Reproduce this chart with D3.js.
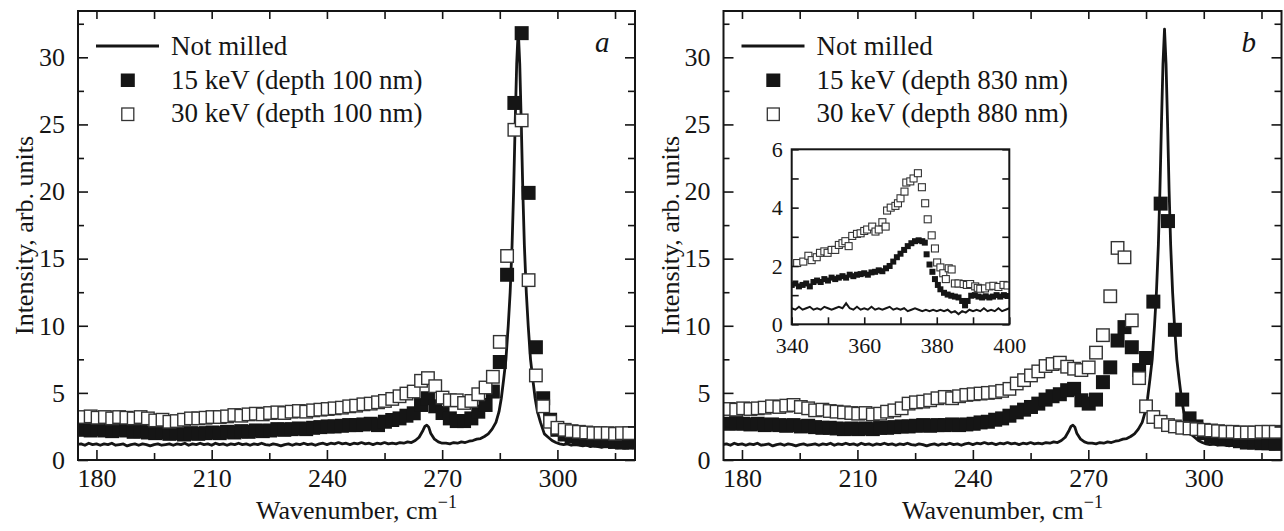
<!DOCTYPE html>
<html><head><meta charset="utf-8">
<script src="https://cdn.jsdelivr.net/npm/d3@7"></script>
<style>body{margin:0;background:#fff;}</style>
</head><body><svg id="c" width="1284" height="531"></svg>
<script>
// ---------- DATA ----------
const xMajor = [180, 210, 240, 270, 300];
const xMinor = [195, 225, 255, 285, 315];
const yMajor = [0, 5, 10, 15, 20, 25, 30];
const yMinor = [2.5, 7.5, 12.5, 17.5, 22.5, 27.5, 32.5];
const insetXMajor = [340, 360, 380, 400];
const insetXMinor = [350, 370, 390];
const insetYMajor = [0, 2, 4, 6];
const insetYMinor = [1, 3, 5];

const legendA = ["Not milled", "15 keV (depth 100 nm)", "30 keV (depth 100 nm)"];
const legendB = ["Not milled", "15 keV (depth 830 nm)", "30 keV (depth 880 nm)"];

// wavenumbers of the square-marker spectra
const gridWn = [176.6,178.5,180.3,182.2,184.1,185.9,187.8,189.7,191.5,193.4,
  195.3,197.2,199.0,200.9,202.8,204.6,206.5,208.4,210.2,212.1,
  214.0,215.9,217.7,219.6,221.5,223.3,225.2,227.1,228.9,230.8,
  232.7,234.6,236.4,238.3,240.2,242.0,243.9,245.8,247.6,249.5,
  251.4,253.3,255.1,257.0,258.9,260.7,262.6,264.5,266.3,268.2,
  270.1,272.0,273.8,275.7,277.6,279.4,281.3,283.2,285.0,286.9,
  288.8,290.7,292.5,294.4,296.3,298.1,300.0,301.9,303.7,305.6,
  307.5,309.4,311.2,313.1,315.0,316.8,318.7];

// panel a
const aFilled = [2.25,2.2,2.3,2.2,2.15,2.25,2.2,2.1,2.15,2.05,
  2.0,2.05,1.95,2.0,1.9,2.0,1.95,2.0,2.05,2.0,
  2.1,2.05,2.15,2.1,2.2,2.15,2.2,2.3,2.25,2.3,
  2.35,2.3,2.4,2.45,2.5,2.5,2.55,2.6,2.6,2.65,
  2.7,2.6,2.85,2.98,3.1,3.3,3.48,4.1,4.6,4.0,
  3.5,3.1,2.9,2.9,3.1,3.6,4.1,5.1,7.3,13.8,
  26.6,31.8,19.9,8.4,4.6,3.0,2.25,1.9,1.75,1.65,
  1.55,1.5,1.45,1.4,1.35,1.3,1.3];
const aOpen = [3.2,3.25,3.15,3.2,3.1,3.2,3.15,3.1,3.2,3.1,
  2.95,3.0,2.85,2.9,3.0,3.1,3.1,3.15,3.2,3.2,
  3.25,3.35,3.3,3.4,3.45,3.4,3.5,3.55,3.5,3.6,
  3.65,3.6,3.7,3.75,3.8,3.85,3.9,4.0,4.05,4.15,
  4.2,4.3,4.4,4.55,4.75,4.95,5.1,5.9,6.1,5.5,
  4.65,4.45,4.45,4.25,4.4,4.9,5.4,6.2,8.8,15.2,
  24.6,25.3,13.4,6.3,4.0,2.85,2.4,2.25,2.15,2.1,
  2.05,2.0,2.0,2.0,1.95,2.0,2.0];

// panel b
const bFilled = [2.7,2.75,2.7,2.65,2.7,2.6,2.65,2.6,2.55,2.6,
  2.5,2.55,2.45,2.4,2.4,2.35,2.3,2.35,2.3,2.35,
  2.3,2.4,2.4,2.45,2.5,2.5,2.55,2.6,2.55,2.6,
  2.6,2.65,2.6,2.65,2.7,2.8,2.85,3.0,3.1,3.3,
  3.55,3.75,3.95,4.2,4.5,4.75,4.9,5.2,5.3,4.45,
  4.2,4.5,5.8,6.9,8.9,9.9,8.4,6.7,7.6,11.8,
  19.1,17.8,9.7,4.5,3.1,2.5,2.0,1.75,1.6,1.55,
  1.5,1.4,1.3,1.3,1.25,1.25,1.2];
const bOpen = [3.8,3.75,3.85,3.8,3.85,3.9,4.0,3.95,4.05,4.1,
  3.95,3.85,3.7,3.75,3.65,3.6,3.55,3.5,3.45,3.5,
  3.4,3.45,3.6,3.7,3.85,4.2,4.3,4.35,4.45,4.6,
  4.7,4.6,4.75,4.85,4.9,4.95,5.0,5.05,5.15,5.3,
  5.7,5.95,6.3,6.6,7.0,7.15,7.25,6.95,6.8,6.7,
  6.9,8.0,9.3,12.2,15.8,15.1,10.4,6.1,4.0,3.2,
  2.85,2.6,2.5,2.4,2.35,2.3,2.25,2.2,2.15,2.1,
  2.1,2.05,2.05,2.05,2.1,2.1,2.1];

// not milled (solid line), same in both panels
const lineWn = [175,176,177,178,179,180,181,182,183,184,
  185,186,187,188,189,190,191,192,193,194,
  195,196,197,198,199,200,201,202,203,204,
  205,206,207,208,209,210,211,212,213,214,
  215,216,217,218,219,220,221,222,223,224,
  225,226,227,228,229,230,231,232,233,234,
  235,236,237,238,239,240,241,242,243,244,
  245,246,247,248,249,250,251,252,253,254,
  255,256,257,258,259,260,261,262,
  263,264,265,265.5,266,266.5,267,268,269,270,
  271,272,273,274,275,276,277,278,279,280,
  281,282,283,284,284.8,285.4,286,286.6,287.2,287.7,
  288.2,288.6,289,289.4,289.8,290.2,290.6,291,291.4,291.9,
  292.4,293,293.6,294.2,294.8,295.6,296.6,297.6,298.6,299.6,
  300.6,301.6,302.6,303.6,304.6,305.6,306.6,307.6,308.6,309.6,
  310.6,311.6,312.6,313.6,314.6,315.6,316.6,317.6,318.6,319.6,320.2];
const lineI = [1.15,1.2,1.1,1.25,1.15,1.2,1.1,1.2,1.15,1.25,
  1.1,1.15,1.2,1.05,1.15,1.2,1.1,1.2,1.15,1.05,
  1.15,1.2,1.1,1.15,1.2,1.1,1.2,1.15,1.25,1.1,
  1.2,1.15,1.25,1.15,1.2,1.1,1.25,1.15,1.2,1.1,
  1.2,1.15,1.25,1.15,1.2,1.1,1.2,1.15,1.25,1.15,
  1.1,1.2,1.15,1.05,1.15,1.2,1.1,1.2,1.15,1.25,
  1.15,1.2,1.1,1.2,1.25,1.15,1.25,1.2,1.3,1.2,
  1.25,1.15,1.25,1.2,1.3,1.2,1.25,1.15,1.25,1.2,
  1.3,1.2,1.25,1.2,1.3,1.25,1.35,1.3,
  1.45,1.7,2.2,2.5,2.6,2.45,2.0,1.55,1.35,1.25,
  1.25,1.2,1.3,1.25,1.35,1.3,1.4,1.45,1.55,1.6,
  1.75,1.95,2.3,2.8,3.6,4.6,6.0,7.5,10,12.5,
  16,20,25,29.5,32.1,29.5,25,20,16,12.5,
  10,7.5,6,4.6,3.6,2.8,1.95,1.7,1.45,1.3,
  1.2,1.15,1.2,1.1,1.15,1.1,1.05,1.1,1.0,1.05,
  1.0,0.95,1.05,0.95,1.0,0.9,0.95,0.9,1.0,0.9,0.95];

// inset (panel b)
const insetOpenWn = [341.5,343.2,344.6,345.5,346.9,347.8,349.0,349.9,351.0,352.0,
  353.0,354.0,354.8,355.7,356.7,358.0,359.0,360.0,360.8,362.2,
  363.1,364.0,365.0,365.9,366.3,367.3,368.6,369.3,370.0,371.1,
  371.6,372.7,373.6,374.8,375.9,376.8,377.5,378.6,379.5,380.1,
  381.0,381.8,382.5,383.3,384.1,385.0,386.0,387.4,388.3,389.2,
  390.6,391.3,392.0,393.3,394.5,395.6,397.0,398.4,399.5];
const insetOpenI = [2.1,2.15,2.35,2.2,2.3,2.45,2.5,2.45,2.55,2.55,
  2.72,2.78,2.85,2.68,3.03,3.1,3.12,3.2,3.25,3.35,
  3.18,3.25,3.5,3.35,3.9,4.0,4.06,4.15,4.32,4.55,
  4.86,4.9,5.0,5.18,4.7,4.15,3.6,3.05,2.6,2.12,
  1.95,1.75,1.55,1.92,1.88,1.4,1.4,1.38,1.35,1.38,
  1.3,1.25,1.22,1.23,1.3,1.32,1.28,1.35,1.33];
const insetFilledWn = [340,341,342,343,344,345,346,347,348,349,
  350,351,352,353,354,355,356,357,358,359,
  360,361,362,363,364,365,366,367,368,369,
  370,371,372,373,374,375,376,376.7,377.2,378,
  378.8,379.5,380.3,381,382,383,384,385,386,387,
  387.8,388.5,389.5,390.5,391.5,392.5,393.5,394.5,395.5,396.5,
  397.5,398.5,399.5];
const insetFilledI = [1.35,1.4,1.3,1.35,1.4,1.3,1.45,1.5,1.45,1.55,
  1.5,1.6,1.55,1.6,1.65,1.6,1.7,1.65,1.7,1.72,
  1.75,1.7,1.78,1.8,1.85,1.82,1.92,2.0,2.15,2.3,
  2.42,2.55,2.68,2.78,2.85,2.88,2.85,2.8,2.4,2.05,
  1.8,1.55,1.35,1.2,1.08,1.02,0.98,0.95,0.92,0.8,
  0.65,0.8,0.98,1.0,0.95,0.92,0.96,0.92,0.95,1.0,
  0.95,1.0,0.97];
const insetLineWn = [340,341,342,343,344,345,346,347,348,349,
  350,351,352,353,354,355,356,357,358,359,
  360,361,362,363,364,365,366,367,368,369,
  370,371,372,373,374,375,376,377,378,379,
  380,381,382,383,384,385,386,387,388,389,
  390,391,392,393,394,395,396,397,398,399,400];
const insetLineI = [0.55,0.5,0.6,0.5,0.55,0.6,0.5,0.55,0.5,0.6,
  0.55,0.5,0.55,0.6,0.55,0.72,0.55,0.5,0.6,0.5,
  0.55,0.5,0.6,0.5,0.55,0.5,0.55,0.6,0.5,0.55,
  0.5,0.55,0.45,0.5,0.55,0.5,0.45,0.5,0.45,0.5,
  0.45,0.5,0.45,0.5,0.4,0.45,0.35,0.45,0.4,0.5,
  0.45,0.5,0.45,0.55,0.45,0.5,0.45,0.55,0.45,0.5,0.55];

// ---------- DRAWING ----------
const FONT = "Liberation Serif";
const INK = "#151515";
const svg = d3.select("#c");
const TOP = 11, BOT = 460;
const y = d3.scaleLinear().domain([0, 33.45]).range([BOT, TOP]);

function styleAxis(g, fs) {
  g.select(".domain").remove();
  g.attr("font-family", null).attr("font-size", null);
  g.selectAll("text").style("font-family", FONT).style("font-size", fs + "px").attr("fill", INK);
  g.selectAll(".tick line").attr("stroke", INK).attr("stroke-width", 1.6);
}

function squares(parent, xs, ys, x, yy, size, filled, sw) {
  const pts = xs.map((w, i) => [w, ys[i]]);
  parent.append("g").selectAll("rect").data(pts).join("rect")
    .attr("x", d => x(d[0]) - size / 2)
    .attr("y", d => yy(d[1]) - size / 2)
    .attr("width", size).attr("height", size)
    .attr("fill", filled ? INK : "#fff")
    .attr("stroke", filled ? "none" : "#333")
    .attr("stroke-width", filled ? 0 : sw);
}

function txt(parent, fs) {
  return parent.append("text").style("font-family", FONT).style("font-size", fs + "px").attr("fill", INK);
}

function panel(cfg) {
  const x = d3.scaleLinear().domain([175.2, 320.2]).range([cfg.x0, cfg.x1]);
  const cid = "clip" + cfg.key;
  svg.append("clipPath").attr("id", cid).append("rect")
    .attr("x", cfg.x0).attr("y", TOP).attr("width", cfg.x1 - cfg.x0).attr("height", BOT - TOP);
  const plot = svg.append("g").attr("clip-path", `url(#${cid})`);
  plot.append("path")
    .datum(lineWn.map((w, i) => [w, lineI[i]]))
    .attr("d", d3.line().x(d => x(d[0])).y(d => y(d[1])))
    .attr("fill", "none").attr("stroke", INK).attr("stroke-width", 2.8)
    .attr("stroke-linejoin", "round");
  squares(plot, gridWn, cfg.filled, x, y, 14, true);
  squares(plot, gridWn, cfg.open, x, y, 12.5, false, 1.4);

  styleAxis(svg.append("g").attr("transform", `translate(0,${BOT})`)
    .call(d3.axisBottom(x).tickValues(xMajor).tickSize(-10).tickPadding(9).tickFormat(d3.format("d"))), 26);
  styleAxis(svg.append("g").attr("transform", `translate(0,${BOT})`)
    .call(d3.axisBottom(x).tickValues(xMinor).tickSize(-7).tickFormat("")), 26);
  styleAxis(svg.append("g").attr("transform", `translate(0,${TOP})`)
    .call(d3.axisTop(x).tickValues(xMajor.concat(xMinor)).tickSize(-8).tickFormat("")), 26);
  styleAxis(svg.append("g").attr("transform", `translate(${cfg.x0},0)`)
    .call(d3.axisLeft(y).tickValues(yMajor).tickSize(-10).tickPadding(13).tickFormat(d3.format("d"))), 26);
  styleAxis(svg.append("g").attr("transform", `translate(${cfg.x0},0)`)
    .call(d3.axisLeft(y).tickValues(yMinor).tickSize(-6).tickFormat("")), 26);
  styleAxis(svg.append("g").attr("transform", `translate(${cfg.x1},0)`)
    .call(d3.axisRight(y).tickValues(yMajor).tickSize(-10).tickFormat("")), 26);
  styleAxis(svg.append("g").attr("transform", `translate(${cfg.x1},0)`)
    .call(d3.axisRight(y).tickValues(yMinor).tickSize(-7).tickFormat("")), 26);

  svg.append("rect").attr("x", cfg.x0).attr("y", TOP)
    .attr("width", cfg.x1 - cfg.x0).attr("height", BOT - TOP)
    .attr("fill", "none").attr("stroke", INK).attr("stroke-width", 2);

  txt(svg, 26).attr("transform", `translate(${cfg.x0 - 45},${(TOP + BOT) / 2}) rotate(-90)`)
    .attr("text-anchor", "middle")
    .text("Intensity, arb. units");
  const xt = txt(svg, 26).attr("x", (cfg.x0 + cfg.x1) / 2).attr("y", 519)
    .attr("text-anchor", "middle");
  xt.append("tspan").text("Wavenumber, cm");
  xt.append("tspan").attr("dy", -11).style("font-size", "18px").text("\u22121");

  txt(svg, 29).attr("x", cfg.x1 - 40).attr("y", 52)
    .style("font-style", "italic")
    .text(cfg.letter);

  const lg = svg.append("g");
  const lx = cfg.x0 + 18;
  lg.append("line").attr("x1", lx).attr("x2", lx + 63).attr("y1", 46).attr("y2", 46)
    .attr("stroke", INK).attr("stroke-width", 3);
  lg.append("rect").attr("x", lx + 31.8 - 7).attr("y", 80.5 - 7).attr("width", 14).attr("height", 13.5).attr("fill", INK);
  lg.append("rect").attr("x", lx + 31.8 - 6).attr("y", 114 - 6).attr("width", 12).attr("height", 12.5)
    .attr("fill", "#fff").attr("stroke", "#333").attr("stroke-width", 1.3);
  const tx = lx + 75;
  [54.5, 88.5, 122].forEach((yy, i) => {
    txt(lg, 27).attr("x", tx).attr("y", yy).text(cfg.legend[i]);
  });
}

panel({ key: "a", x0: 78, x1: 635, filled: aFilled, open: aOpen, letter: "a", legend: legendA });
panel({ key: "b", x0: 723.5, x1: 1281.5, filled: bFilled, open: bOpen, letter: "b", legend: legendB });

// ---------- INSET ----------
(function inset() {
  const L = 791.7, R = 1009.3, T = 149.3, B = 324.3;
  const x = d3.scaleLinear().domain([340, 400]).range([L, R]);
  const yi = d3.scaleLinear().domain([0, 6]).range([B, T]);
  svg.append("rect").attr("x", L).attr("y", T).attr("width", R - L).attr("height", B - T).attr("fill", "#fff");
  svg.append("clipPath").attr("id", "clipi").append("rect")
    .attr("x", L).attr("y", T).attr("width", R - L).attr("height", B - T);
  const plot = svg.append("g").attr("clip-path", "url(#clipi)");
  plot.append("path")
    .datum(insetLineWn.map((w, i) => [w, insetLineI[i]]))
    .attr("d", d3.line().x(d => x(d[0])).y(d => yi(d[1])))
    .attr("fill", "none").attr("stroke", INK).attr("stroke-width", 2);
  squares(plot, insetFilledWn, insetFilledI, x, yi, 6, true);
  squares(plot, insetOpenWn, insetOpenI, x, yi, 7, false, 1.1);

  styleAxis(svg.append("g").attr("transform", `translate(0,${B})`)
    .call(d3.axisBottom(x).tickValues(insetXMajor.concat(insetXMinor)).tickSize(-7).tickPadding(13)
      .tickFormat(d => insetXMajor.includes(d) ? d3.format("d")(d) : "")), 22);
  styleAxis(svg.append("g").attr("transform", `translate(${L},0)`)
    .call(d3.axisLeft(yi).tickValues(insetYMajor.concat(insetYMinor)).tickSize(-7).tickPadding(9)
      .tickFormat(d => insetYMajor.includes(d) ? d3.format("d")(d) : "")), 22);
  styleAxis(svg.append("g").attr("transform", `translate(${R},0)`)
    .call(d3.axisRight(yi).tickValues(insetYMajor.concat(insetYMinor)).tickSize(-7).tickFormat("")), 22);
  svg.append("rect").attr("x", L).attr("y", T).attr("width", R - L).attr("height", B - T)
    .attr("fill", "none").attr("stroke", INK).attr("stroke-width", 2);
})();
</script>
</body></html>
